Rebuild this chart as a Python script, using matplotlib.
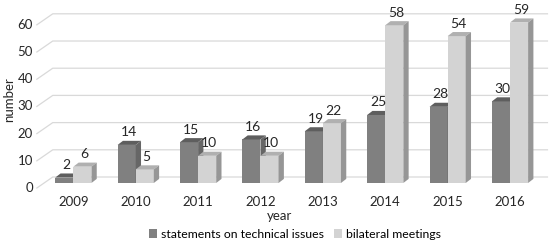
import matplotlib.pyplot as plt
from matplotlib.patches import Polygon, Patch

plt.rcParams['font.family'] = ['Lato', 'DejaVu Sans']

years = ['2009', '2010', '2011', '2012', '2013', '2014', '2015', '2016']
statements = [2, 14, 15, 16, 19, 25, 28, 30]
meetings = [6, 5, 10, 10, 22, 58, 54, 59]
yticks = [0, 10, 20, 30, 40, 50, 60]

# colours: front, top, side
dark = ('#808080', '#5e5e5e', '#666666')
light = ('#d3d3d3', '#b0b0b0', '#969696')
txt = '#262626'

# fake 3D geometry (data units)
w = 0.29
dx, dy = 0.085, 1.5
back_x, back_dy = -0.33, 2.2
front_x, front_dy = -0.585, -1.85

fig = plt.figure(figsize=(5.53, 2.43), dpi=100)
ax = fig.add_axes([0.054, 0.177, 0.94, 0.802])
ax.set_xlim(-0.697, 7.636)
ax.set_ylim(-6.25, 65.4)
ax.axis('off')

# back wall grid lines with slanted left edge
for v in yticks:
    ax.plot([front_x, back_x, 7.6], [v + front_dy, v + back_dy, v + back_dy],
            color='#d9d9d9', lw=0.9, zorder=0)
    ax.text(front_x - 0.06, v + front_dy, str(v), ha='right', va='center',
            fontsize=9.5, color=txt)


def bar3d(x0, h, cols):
    front, top, side = cols
    ax.add_patch(Polygon([(x0, 0), (x0 + w, 0), (x0 + w, h), (x0, h)],
                         closed=True, fc=front, ec='none', zorder=2))
    ax.add_patch(Polygon([(x0, h), (x0 + w, h), (x0 + w + dx, h + dy), (x0 + dx, h + dy)],
                         closed=True, fc=top, ec='none', zorder=2))
    ax.add_patch(Polygon([(x0 + w, 0), (x0 + w + dx, dy), (x0 + w + dx, h + dy), (x0 + w, h)],
                         closed=True, fc=side, ec='none', zorder=2))


for i in range(len(years)):
    # dark bar first, the light bar in front hides its side face
    bar3d(i - w, statements[i], dark)
    bar3d(i, meetings[i], light)
    ax.text(i - w / 2 + 0.03, statements[i] + dy + 0.9, str(statements[i]),
            ha='center', va='bottom', fontsize=10, color=txt)
    ax.text(i + w / 2 + 0.03, meetings[i] + dy + 0.9, str(meetings[i]),
            ha='center', va='bottom', fontsize=10, color=txt)
    ax.text(i, -7.1, years[i], ha='center', va='center',
            fontsize=9.5, color=txt)

fig.text(0.505, 0.113, 'year', ha='center', va='center', fontsize=9.5, color=txt)
fig.text(0.016, 0.588, 'number', rotation=90, ha='center', va='center',
         fontsize=9.5, color=txt)

handles = [Patch(fc=dark[0], ec='none'), Patch(fc=light[0], ec='none')]
fig.legend(handles, ['statements on technical issues', 'bilateral meetings'],
           loc='center', bbox_to_anchor=(0.533, 0.037), ncol=2, frameon=False,
           fontsize=8.8, handlelength=0.7, handleheight=0.7, handletextpad=0.3,
           columnspacing=0.8)

fig.savefig('out.png', dpi=100)
